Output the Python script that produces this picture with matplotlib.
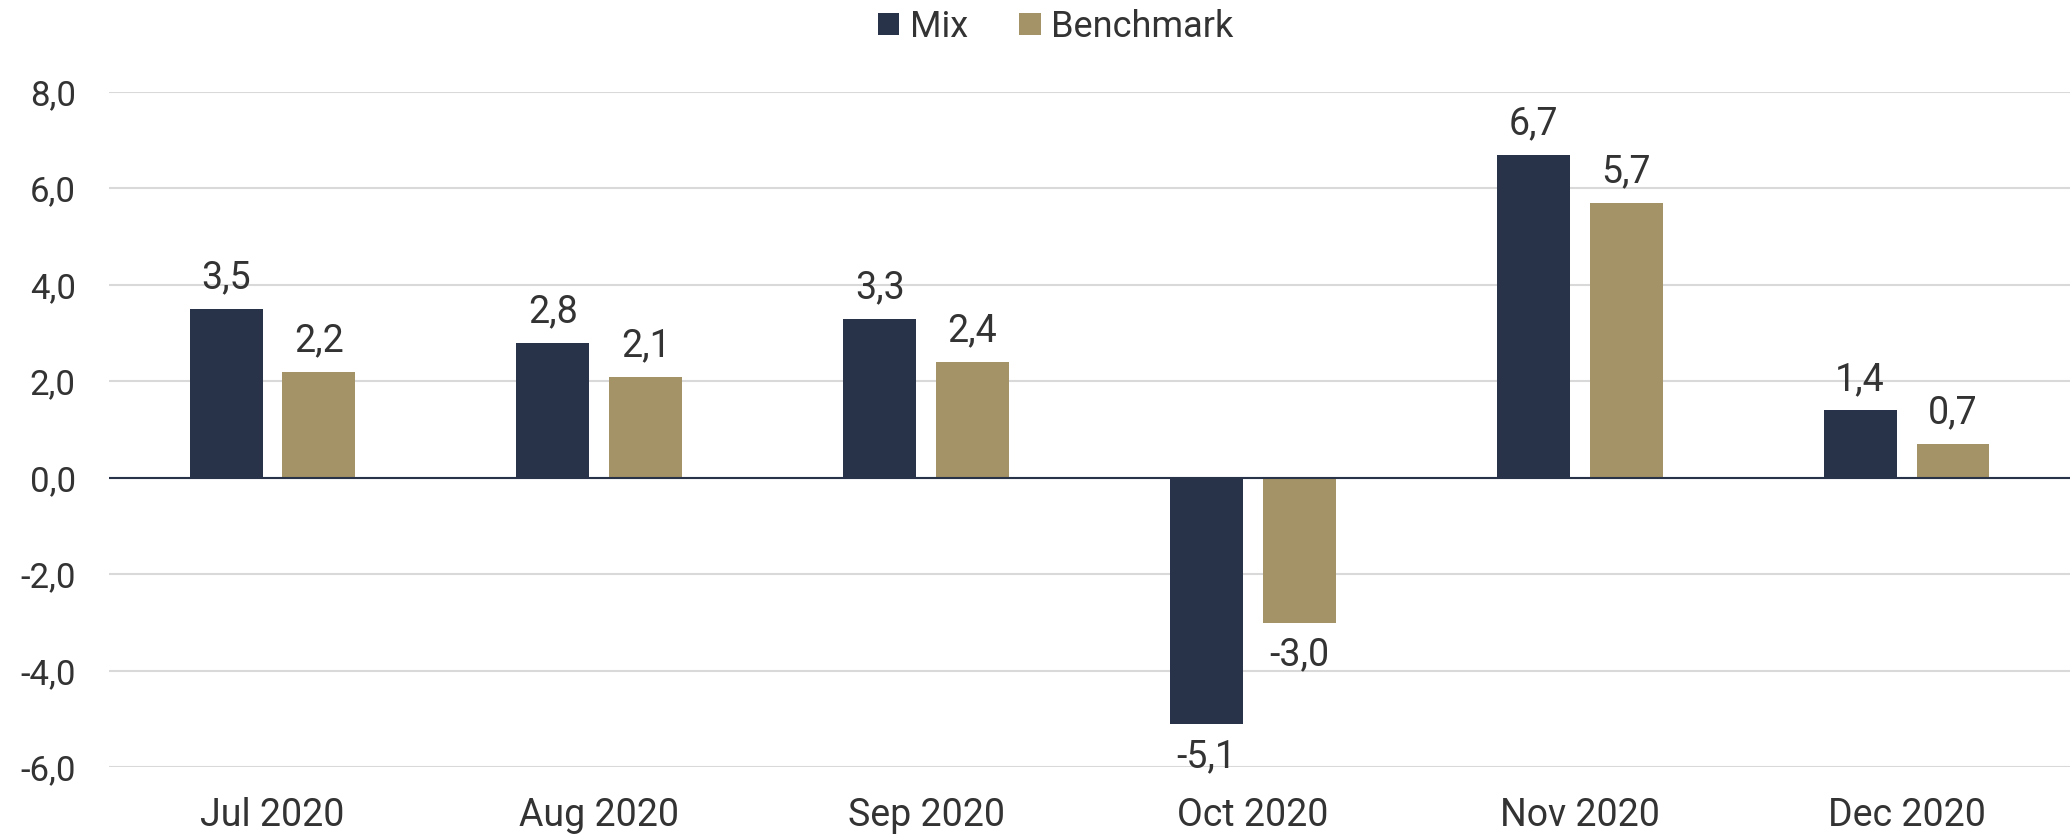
import numpy as np
import matplotlib.pyplot as plt
from matplotlib.ticker import FuncFormatter

months = ['Jul 2020', 'Aug 2020', 'Sep 2020', 'Oct 2020', 'Nov 2020', 'Dec 2020']
mix = [3.5, 2.8, 3.3, -5.1, 6.7, 1.4]
benchmark = [2.2, 2.1, 2.4, -3.0, 5.7, 0.7]

plt.rcParams['font.family'] = ['Roboto', 'DejaVu Sans']

c_mix = '#283249'
c_bench = '#a39366'
c_text = '#333333'

fig = plt.figure(figsize=(20.7, 8.36), dpi=100)
ax = fig.add_axes([0.0527, 0.082, 0.9473, 0.808])

x = np.arange(len(months))
w = 0.223
off = 0.142
b1 = ax.bar(x - off, mix, w, color=c_mix, label='Mix', zorder=3)
b2 = ax.bar(x + off, benchmark, w, color=c_bench, label='Benchmark', zorder=3)

def fmt(v):
    return ('%.1f' % v).replace('.', ',')

for bars in (b1, b2):
    for r in bars:
        v = r.get_height()
        xc = r.get_x() + r.get_width() / 2
        if v >= 0:
            ax.annotate(fmt(v), (xc, v), xytext=(0, 9), textcoords='offset points',
                        ha='center', va='bottom', fontsize=27, color=c_text)
        else:
            ax.annotate(fmt(v), (xc, v), xytext=(0, -10), textcoords='offset points',
                        ha='center', va='top', fontsize=27, color=c_text)

ax.set_xlim(-0.5, 5.5)
ax.set_ylim(-6, 8)
ax.set_yticks(np.arange(-6, 9, 2))
ax.yaxis.set_major_formatter(FuncFormatter(lambda v, p: fmt(v)))
ax.set_xticks(x)
ax.set_xticklabels(months)
ax.tick_params(axis='both', length=0, labelcolor=c_text)
ax.tick_params(axis='x', pad=21, labelsize=27)
ax.tick_params(axis='y', pad=24, labelsize=25)
ax.grid(axis='y', color='#d9d9d9', linewidth=1.5, zorder=0)
ax.axhline(0, color=c_mix, linewidth=1.5, zorder=4)
for s in ax.spines.values():
    s.set_visible(False)

fig.legend(handles=[b1, b2], labels=['Mix', 'Benchmark'], loc='center',
           bbox_to_anchor=(0.51, 0.968), ncol=2, frameon=False,
           fontsize=26, handlelength=0.6, handleheight=0.6, handletextpad=0.3,
           columnspacing=1.4, labelcolor=c_text)

fig.savefig('out.png', dpi=100)
